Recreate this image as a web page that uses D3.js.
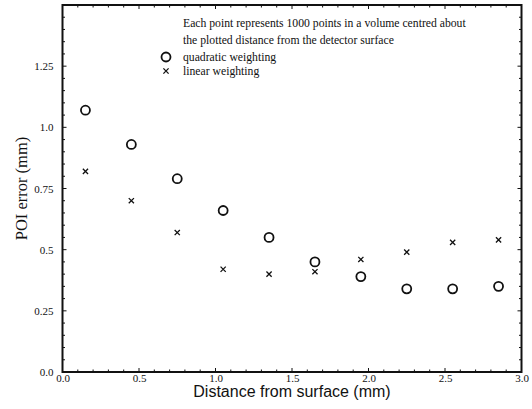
<!DOCTYPE html>
<html>
<head>
<meta charset="utf-8">
<script src="https://cdn.jsdelivr.net/npm/d3@7"></script>
<style>
  body { margin: 0; background: #fff; }
  svg { display: block; }
</style>
</head>
<body>
<svg id="chart"></svg>
<script>
const width = 532;
const height = 409;

// data
const distances = [0.15, 0.45, 0.75, 1.05, 1.35, 1.65, 1.95, 2.25, 2.55, 2.85];
const quadratic = [1.07, 0.93, 0.79, 0.66, 0.55, 0.45, 0.39, 0.34, 0.34, 0.35];
const linear = [0.82, 0.70, 0.57, 0.42, 0.40, 0.41, 0.46, 0.49, 0.53, 0.54];

const xTicks = [0, 0.5, 1.0, 1.5, 2.0, 2.5, 3.0];
const xTickLabels = ['0.0', '0.5', '1.0', '1.5', '2.0', '2.5', '3.0'];
const yTicks = [0, 0.25, 0.5, 0.75, 1.0, 1.25];
const yTickLabels = ['0.0', '0.25', '0.5', '0.75', '1.0', '1.25'];

const noteLines = [
  'Each point represents 1000 points in a volume centred about',
  'the plotted distance from the detector surface'
];
const legendLabels = ['quadratic weighting', 'linear weighting'];

const serif = '"Liberation Serif", "DejaVu Serif", serif';
const sans = '"Liberation Sans", Arial, sans-serif';

const svg = d3.select('#chart')
  .attr('width', width)
  .attr('height', height);

const x = d3.scaleLinear().domain([0, 3]).range([62.5, 521.5]);
const y = d3.scaleLinear().domain([0, 1.5]).range([372, 5]);

// minor + major ticks, pointing inward on all four sides
const xMinor = d3.range(0, 3.0001, 0.1);
const yMinor = d3.range(0, 1.5001, 0.05);

const xAxisB = svg.append('g')
  .attr('transform', `translate(0, ${y(0)})`)
  .call(d3.axisBottom(x).tickValues(xTicks).tickFormat((d, i) => xTickLabels[i]).tickSize(0).tickPadding(2));
const yAxisL = svg.append('g')
  .attr('transform', `translate(${x(0)}, 0)`)
  .call(d3.axisLeft(y).tickValues(yTicks).tickFormat((d, i) => yTickLabels[i]).tickSize(0).tickPadding(9));

[xAxisB, yAxisL].forEach(a => {
  a.select('.domain').remove();
  a.selectAll('text')
    .attr('font-family', serif)
    .attr('font-size', 11)
    .attr('fill', '#111');
});

const ticks = svg.append('g').attr('stroke', '#111').attr('stroke-width', 1);

xMinor.forEach(v => {
  const major = xTicks.some(t => Math.abs(t - v) < 1e-6);
  const len = major ? 4 : 2.5;
  ticks.append('line').attr('x1', x(v)).attr('x2', x(v)).attr('y1', y(0)).attr('y2', y(0) - len);
  ticks.append('line').attr('x1', x(v)).attr('x2', x(v)).attr('y1', y(1.5)).attr('y2', y(1.5) + len);
});
yMinor.forEach(v => {
  const major = yTicks.some(t => Math.abs(t - v) < 1e-6);
  const len = major ? 4 : 2.5;
  ticks.append('line').attr('y1', y(v)).attr('y2', y(v)).attr('x1', x(0)).attr('x2', x(0) + len);
  ticks.append('line').attr('y1', y(v)).attr('y2', y(v)).attr('x1', x(3)).attr('x2', x(3) - len);
});

// frame
svg.append('rect')
  .attr('x', x(0))
  .attr('y', y(1.5))
  .attr('width', x(3) - x(0))
  .attr('height', y(0) - y(1.5))
  .attr('fill', 'none')
  .attr('stroke', '#111')
  .attr('stroke-width', 2);

// axis titles
svg.append('text')
  .attr('x', (x(0) + x(3)) / 2)
  .attr('y', 397)
  .attr('text-anchor', 'middle')
  .attr('font-family', sans)
  .attr('font-size', 16)
  .attr('fill', '#111')
  .text('Distance from surface (mm)');

svg.append('text')
  .attr('transform', `translate(27, ${(y(0) + y(1.5)) / 2}) rotate(-90)`)
  .attr('text-anchor', 'middle')
  .attr('font-family', serif)
  .attr('font-size', 16.5)
  .attr('fill', '#111')
  .text('POI error (mm)');

// markers
function drawCross(g, cx, cy, s) {
  g.append('path')
    .attr('d', `M${cx - s},${cy - s}L${cx + s},${cy + s}M${cx - s},${cy + s}L${cx + s},${cy - s}`)
    .attr('stroke', '#111')
    .attr('stroke-width', 1.3)
    .attr('fill', 'none');
}

svg.append('g').selectAll('circle')
  .data(distances)
  .enter()
  .append('circle')
    .attr('cx', d => x(d))
    .attr('cy', (d, i) => y(quadratic[i]))
    .attr('r', 4.5)
    .attr('fill', 'none')
    .attr('stroke', '#111')
    .attr('stroke-width', 1.8);

const crossG = svg.append('g');
distances.forEach((d, i) => drawCross(crossG, x(d), y(linear[i]), 2.6));

// legend / note
const legend = svg.append('g')
  .attr('font-family', serif)
  .attr('font-size', 11.7)
  .attr('fill', '#111');

noteLines.forEach((t, i) => {
  legend.append('text').attr('x', 183).attr('y', 27 + i * 17).text(t);
});
legendLabels.forEach((t, i) => {
  legend.append('text').attr('x', 183).attr('y', 61 + i * 14).text(t);
});
legend.append('circle')
  .attr('cx', 166).attr('cy', 57).attr('r', 4.5)
  .attr('fill', 'none').attr('stroke', '#111').attr('stroke-width', 1.8);
drawCross(legend, 166, 71, 2.6);
</script>
</body>
</html>
